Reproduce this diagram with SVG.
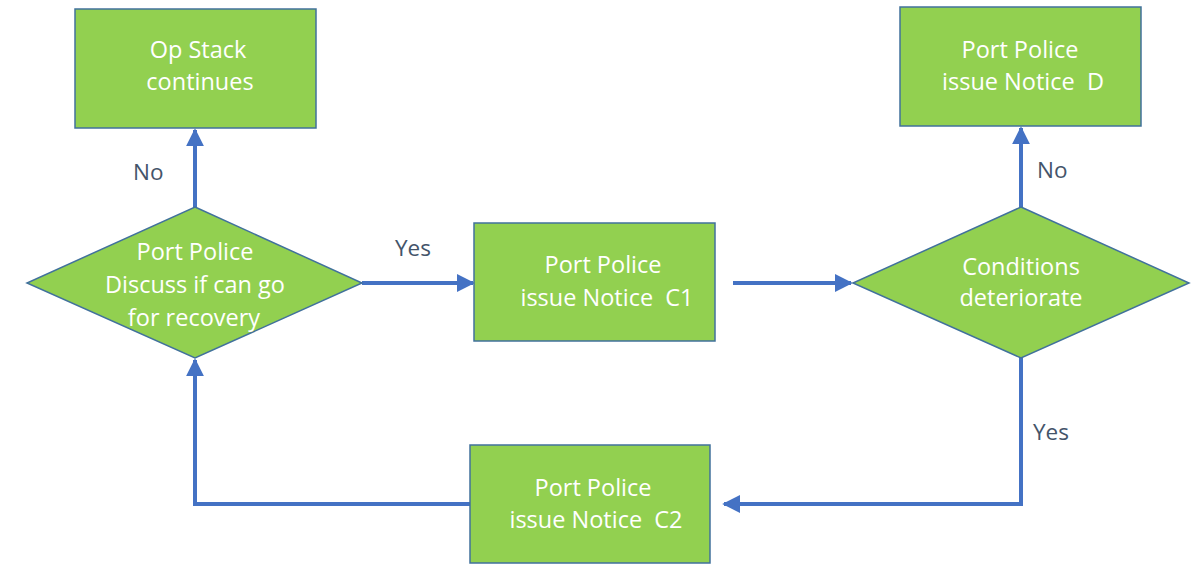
<svg xmlns="http://www.w3.org/2000/svg" width="1198" height="565" viewBox="0 0 1198 565">
<style>
.box{fill:#92d050;stroke:#41719c;stroke-width:1.5}
.t{font-family:"Open Sans","Liberation Sans",sans-serif;font-size:23.5px;fill:#ffffff;text-anchor:middle;white-space:pre}
.lbl{font-family:"Open Sans","Liberation Sans",sans-serif;font-size:22.5px;fill:#44546a}
.c{fill:none;stroke:#4472c4;stroke-width:4}
</style>
<defs>
<marker id="ah" viewBox="0 0 10 10" refX="9" refY="5" markerWidth="4.5" markerHeight="4.5" orient="auto" markerUnits="strokeWidth">
<path d="M0,0 L10,5 L0,10 z" fill="#4472c4"/>
</marker>
</defs>
<rect width="1198" height="565" fill="#ffffff"/>
<g id="connectors">
<path class="c" d="M195,207 V130" marker-end="url(#ah)"/>
<path class="c" d="M362,283 H473" marker-end="url(#ah)"/>
<path class="c" d="M733,283 H851" marker-end="url(#ah)"/>
<path class="c" d="M1021,207 V128" marker-end="url(#ah)"/>
<path class="c" d="M1021,358 V504 H724" marker-end="url(#ah)"/>
<path class="c" d="M470,504 H195 V360" marker-end="url(#ah)"/>
<text class="lbl" x="133" y="180">No</text>
<text class="lbl" x="395" y="256">Yes</text>
<text class="lbl" x="1037" y="178">No</text>
<text class="lbl" x="1033" y="440">Yes</text>
</g>
<g id="opstack">
<rect class="box" x="75" y="9" width="241" height="119"/>
<text class="t" x="198" y="58">Op Stack</text>
<text class="t" x="200" y="90">continues</text>
</g>
<g id="discuss">
<polygon class="box" points="195,207 362,283 195,358 27,283"/>
<text class="t" x="195" y="260">Port Police</text>
<text class="t" x="195" y="293">Discuss if can go</text>
<text class="t" x="194" y="326">for recovery</text>
</g>
<g id="noticeC1">
<rect class="box" x="474" y="223" width="241" height="118"/>
<text class="t" x="603" y="273">Port Police</text>
<text class="t" x="607" y="306">issue Notice  C1</text>
</g>
<g id="conditions">
<polygon class="box" points="1021,207 1189,283 1021,358 853,283"/>
<text class="t" x="1021" y="275">Conditions</text>
<text class="t" x="1021" y="306">deteriorate</text>
</g>
<g id="noticeD">
<rect class="box" x="900" y="7" width="241" height="119"/>
<text class="t" x="1020" y="58">Port Police</text>
<text class="t" x="1023" y="90">issue Notice  D</text>
</g>
<g id="noticeC2">
<rect class="box" x="470" y="445" width="240" height="118"/>
<text class="t" x="593" y="496">Port Police</text>
<text class="t" x="596" y="528">issue Notice  C2</text>
</g>
</svg>
